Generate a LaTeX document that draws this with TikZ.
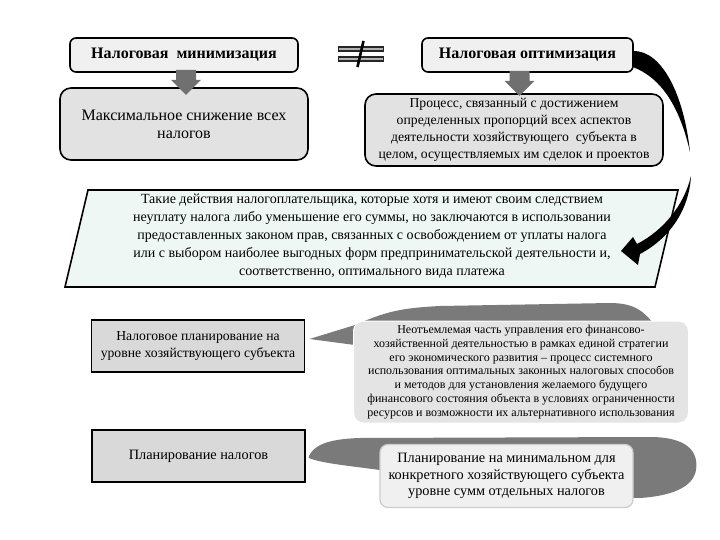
\documentclass[tikz,border=0pt]{standalone}
\usepackage{fontspec}
\setmainfont{Liberation Serif}
\usetikzlibrary{calc,backgrounds}
\definecolor{arrgray}{RGB}{112,112,112}
\definecolor{blobgray}{RGB}{122,122,122}
\definecolor{boxlight}{RGB}{240,240,240}
\definecolor{boxmid}{RGB}{226,226,226}
\definecolor{boxsq}{RGB}{217,217,217}
\definecolor{mint}{RGB}{238,247,243}
\definecolor{calllight}{RGB}{228,228,228}
\definecolor{call2fill}{RGB}{240,240,240}
\begin{document}
\begin{tikzpicture}[x=1pt,y=-1pt,
  topbox/.style={draw,line width=1.6pt,rounded corners=6pt,fill=boxlight,
    minimum height=34pt,inner sep=0pt,font=\bfseries\fontsize{16}{18}\selectfont},
  midbox/.style={draw,line width=1.6pt,rounded corners=11pt,fill=boxmid,
    inner sep=0pt,align=center},
  sqbox/.style={draw,line width=1.8pt,fill=boxsq,inner sep=0pt,align=center,
    minimum width=213pt,minimum height=52pt},
  callbox/.style={rounded corners=10pt,inner sep=0pt,align=center},
  blockarrow/.style={fill=arrgray},
  curvearrow/.style={fill=black}
]
\useasboundingbox (0,0) rectangle (720,540);

% top row
\node[topbox,minimum width=228pt] (min) at (184,55) {Налоговая\ \ минимизация};
\node[topbox,minimum width=211pt] (opt) at (527.5,55) {Налоговая оптимизация};

\node[midbox,minimum width=248pt,minimum height=72pt,
  font=\fontsize{16}{18}\selectfont] (max) at (184,124)
  {Максимальное снижение всех\\налогов};
\node[midbox,minimum width=298pt,minimum height=72pt,
  font=\fontsize{13.7}{17}\selectfont] (proc) at (514,130)
  {Процесс, связанный с достижением\\определенных пропорций всех аспектов\\деятельности хозяйствующего\ \ субъекта в\\целом, осуществляемых им сделок и проектов};

% block arrows
\begin{scope}[shift={($(min.south)+(2,-3)$)}]
  \fill[blockarrow] (-10,0) -- (10,0) -- (10,10) -- (15,10) -- (0,25) -- (-15,10) -- (-10,10) -- cycle;
\end{scope}
\begin{scope}[shift={($(opt.south)+(-8,-2)$)}]
  \fill[blockarrow] (-10,0) -- (10,0) -- (10,10) -- (15,10) -- (0,25) -- (-15,10) -- (-10,10) -- cycle;
\end{scope}

% not-equal sign
\node[inner sep=0pt,minimum width=46pt,minimum height=30pt] (neq) at (360.5,54) {};
\fill[black!85] ($(neq.center)+(-23,-8)$) rectangle ($(neq.center)+(23,-2)$);
\fill[gray!60] ($(neq.center)+(-22,-6)$) rectangle ($(neq.center)+(22,-4)$);
\fill[black!85] ($(neq.center)+(-23,2)$) rectangle ($(neq.center)+(23,8)$);
\fill[gray!60] ($(neq.center)+(-22,4)$) rectangle ($(neq.center)+(22,6)$);
\draw[line width=2.6pt] ($(neq.center)+(3,-13)$) -- ($(neq.center)+(-3,13)$);

% parallelogram
\draw[line width=1.6pt,fill=mint] (88,190) -- (678,190) -- (655,287) -- (65,287) -- cycle;
\node[align=center,inner sep=0pt,font=\fontsize{14}{18}\selectfont] (para) at (372,236)
  {Такие действия налогоплательщика, которые хотя и имеют своим следствием\\
   неуплату налога либо уменьшение его суммы, но заключаются в использовании\\
   предоставленных законом прав, связанных с освобождением от уплаты налога\\
   или с выбором наиболее выгодных форм предпринимательской деятельности и,\\
   соответственно, оптимального вида платежа};

% curved arrow from optimisation box
\fill[curvearrow] ($(opt.east)+(-1,-4)$) .. controls (662,50) and (684,95) .. (690,152)
  .. controls (680,108) and (662,78) .. ($(opt.east)+(-1,12)$) -- cycle;
\coordinate (tail) at (691,176);
\coordinate (tip) at (621,251);
\fill[curvearrow] (tail) .. controls (689,210) and (670,238) .. (640,254)
  -- (638,265) -- (tip) -- (633,237) -- (637,244)
  .. controls (664,230) and (684,205) .. (tail) -- cycle;

% planning boxes
\node[sqbox,font=\fontsize{13.7}{17}\selectfont] (p1) at (198,346) {Налоговое планирование на\\уровне хозяйствующего субъекта};
\node[sqbox,font=\fontsize{14.3}{17}\selectfont] (p2) at (198.5,456) {Планирование налогов};

% callouts
\node[callbox,fill=calllight,draw=white,line width=1pt,minimum width=335pt,minimum height=102pt,
  font=\fontsize{12}{13.8}\selectfont] (c1) at (521,372)
  {Неотъемлемая часть управления его финансово-\\
   хозяйственной деятельностью в рамках единой стратегии\\
   его экономического развития -- процесс системного\\
   использования оптимальных законных налоговых способов\\
   и методов для установления желаемого будущего\\
   финансового состояния объекта в условиях ограниченности\\
   ресурсов и возможности их альтернативного использования};
\node[callbox,fill=call2fill,draw=gray!40,line width=1.2pt,rounded corners=8pt,
  minimum width=253pt,minimum height=63pt,font=\fontsize{14.3}{16.5}\selectfont] (c2) at (506.5,476)
  {Планирование на минимальном для\\конкретного хозяйствующего субъекта\\уровне сумм отдельных налогов};

\begin{scope}[on background layer]
  \fill[blobgray] ($(p1.east)+(4,-7)$) -- ($(c1.west)+(2,-47)$)
    .. controls (385,312) and (400,308) .. (440,306) -- (610,303)
    .. controls (635,303) and (645,312) .. (655,326) -- (655,360) -- (360,360)
    -- ($(c1.west)+(2,-27)$) -- cycle;
  \fill[blobgray] ($(p2.east)+(3,0)$) .. controls (315,444) and (330,439) .. (360,438)
    -- (650,437) .. controls (685,437) and (699,450) .. (696,470)
    .. controls (693,488) and (670,496) .. (640,498) -- (420,490) -- (380,470)
    .. controls (350,466) and (320,463) .. ($(p2.east)+(3,2)$) -- cycle;
\end{scope}
\end{tikzpicture}
\end{document}
